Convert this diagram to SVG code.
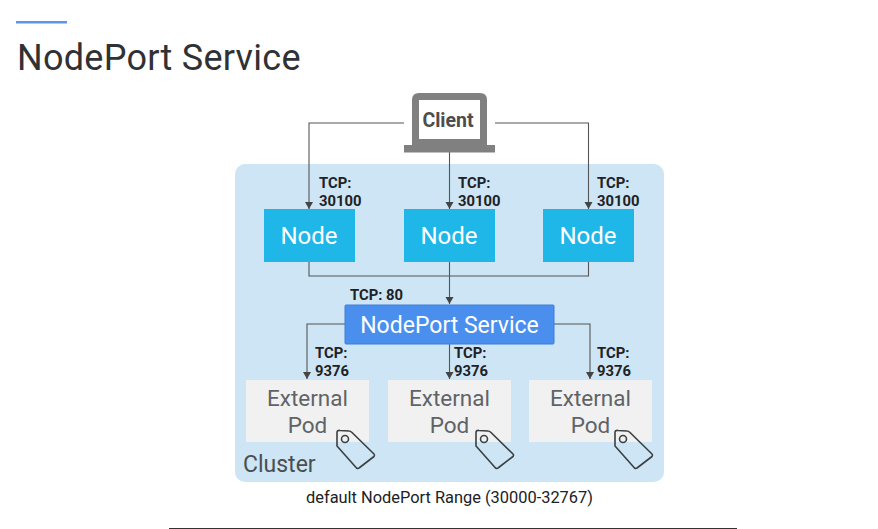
<svg xmlns="http://www.w3.org/2000/svg" width="878" height="529" viewBox="0 0 878 529">
<style>
text{font-family:Roboto,"Open Sans","Liberation Sans",sans-serif}
.n{fill:#1fb6e8}
.nt{font-size:24px;fill:#fff;text-anchor:middle}
.p{fill:#f1f1f1}
.pt{font-size:22.500px;fill:#5f6368;text-anchor:middle}
.l{font-size:14.800px;font-weight:700;fill:#202124}
.c{fill:none;stroke:#555;stroke-width:1.100}
.tag{fill:none;stroke:#3c4043;stroke-width:1.600;stroke-linejoin:round}
</style>
<defs>
<marker id="a" markerUnits="userSpaceOnUse" markerWidth="8" markerHeight="9" refX="7" refY="4" orient="auto"><path d="M0 0L7 4L0 8Z" fill="#444"/></marker>
<g id="tagshape"><path class="tag" d="M337 432.500Q337 430 340 430.500L349 431Q350.500 431 352 432.500L374 454Q375 455 374 456.500L359 468Q358 469 356.500 468L337 446Z"/><circle class="tag" cx="345" cy="439" r="3.500"/></g>
</defs>
<rect width="878" height="529" fill="#fff"/>
<rect x="16" y="21" width="51" height="2.500" fill="#5c96ec"/>
<text x="17" y="70" font-size="36px" letter-spacing="0.270" fill="#303134">NodePort Service</text>
<g id="cluster"><rect x="235" y="164" width="429" height="318" rx="10" fill="#cde5f4"/><text x="243" y="472" font-size="23px" fill="#4a4e52">Cluster</text></g>
<g id="connectors">
<path class="c" d="M404 123H309V209" marker-end="url(#a)"/>
<path class="c" d="M449.500 152V209" marker-end="url(#a)"/>
<path class="c" d="M495 123H588.500V209" marker-end="url(#a)"/>
<path class="c" d="M309 262V276H588.500V262"/>
<path class="c" d="M449.500 262V304" marker-end="url(#a)"/>
<path class="c" d="M345 324H307V379" marker-end="url(#a)"/>
<path class="c" d="M449.500 344V379" marker-end="url(#a)"/>
<path class="c" d="M554 324H590V379" marker-end="url(#a)"/>
</g>
<g id="client">
<path d="M412 145V100Q412 93 419 93H480Q487 93 487 100V145Z" fill="#808080"/>
<rect x="419" y="100" width="61" height="39" fill="#fff"/>
<rect x="404" y="145" width="91" height="7.500" fill="#808080"/>
<text x="448" y="126.500" font-size="19.500px" font-weight="700" fill="#4d4d4d" text-anchor="middle">Client</text>
</g>
<g id="node1"><rect class="n" x="264" y="209" width="91" height="53"/><text class="nt" x="309" y="244">Node</text></g>
<g id="node2"><rect class="n" x="404" y="209" width="91" height="53"/><text class="nt" x="449" y="244">Node</text></g>
<g id="node3"><rect class="n" x="543" y="209" width="91" height="53"/><text class="nt" x="588" y="244">Node</text></g>
<g id="service"><rect x="345" y="305" width="209" height="39" rx="1" fill="#4a8fee" stroke="#3f7fd8"/><text x="449.500" y="333" font-size="23px" fill="#fff" text-anchor="middle">NodePort Service</text></g>
<g id="pod1"><rect class="p" x="246" y="380" width="123" height="62"/><text class="pt" x="307.500" y="406">External</text><text class="pt" x="307.500" y="433">Pod</text><use href="#tagshape"/></g>
<g id="pod2"><rect class="p" x="388" y="380" width="123" height="62"/><text class="pt" x="449.500" y="406">External</text><text class="pt" x="449.500" y="433">Pod</text><use href="#tagshape" x="139"/></g>
<g id="pod3"><rect class="p" x="529" y="380" width="123" height="62"/><text class="pt" x="590.500" y="406">External</text><text class="pt" x="590.500" y="433">Pod</text><use href="#tagshape" x="278"/></g>
<g id="labels">
<text class="l" x="319" y="187.500">TCP:</text><text class="l" x="319" y="205.500">30100</text>
<text class="l" x="458" y="187.500">TCP:</text><text class="l" x="458" y="205.500">30100</text>
<text class="l" x="597" y="187.500">TCP:</text><text class="l" x="597" y="205.500">30100</text>
<text class="l" x="350" y="300">TCP: 80</text>
<text class="l" x="315" y="358">TCP:</text><text class="l" x="315" y="376">9376</text>
<text class="l" x="454" y="358">TCP:</text><text class="l" x="454" y="376">9376</text>
<text class="l" x="597" y="358">TCP:</text><text class="l" x="597" y="376">9376</text>
</g>
<text x="449.500" y="503" font-size="16.400px" fill="#202124" text-anchor="middle">default NodePort Range (30000-32767)</text>
<rect x="169" y="528" width="568" height="1" fill="#333"/>
</svg>
